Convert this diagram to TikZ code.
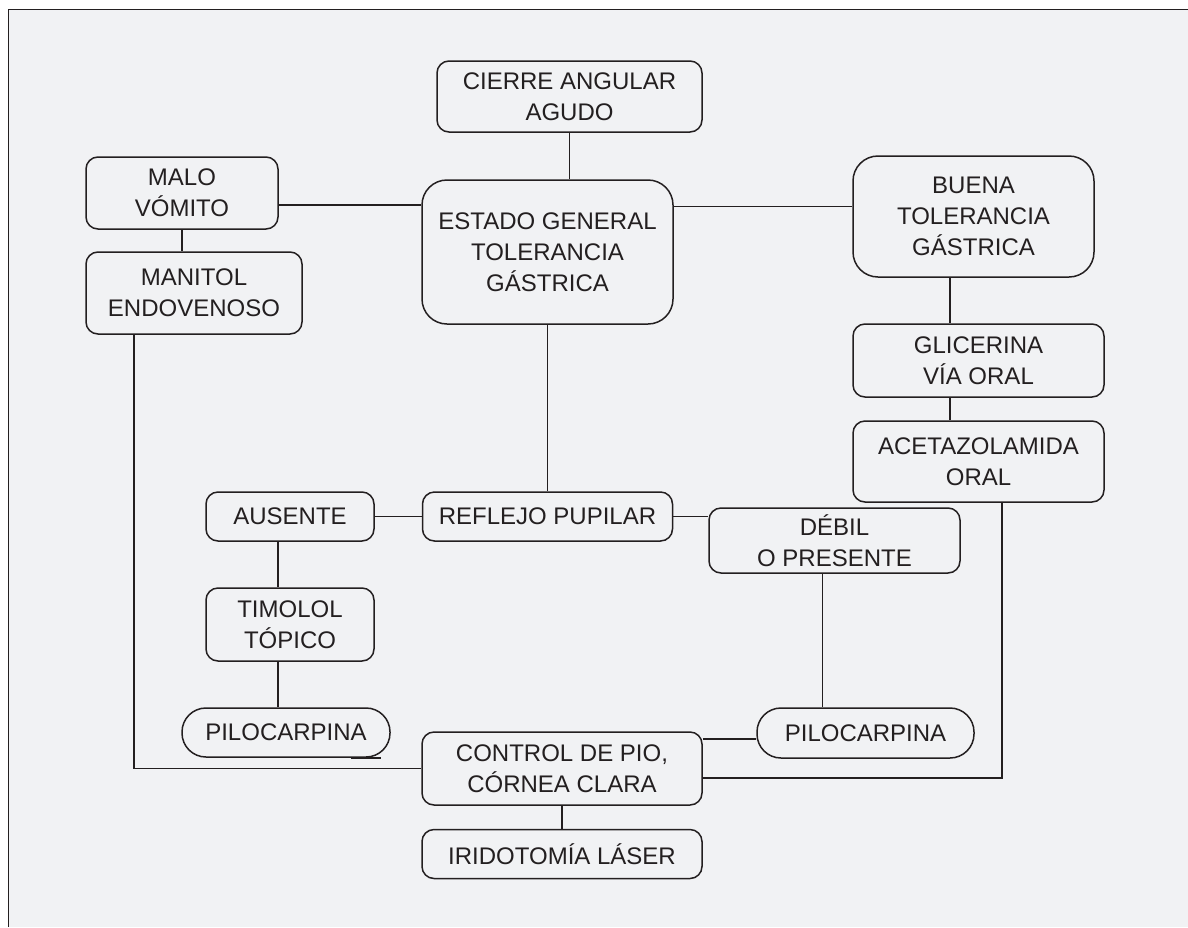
\documentclass[tikz,border=0pt]{standalone}
\usepackage{fontspec}
\setmainfont{Liberation Sans}
\usetikzlibrary{positioning}
\definecolor{fondo}{RGB}{241,242,244}
\definecolor{tinta}{RGB}{35,31,32}

\begin{document}
\begin{tikzpicture}[
    x=1pt, y=-1pt,
    caja/.style={draw=tinta, text=tinta, rounded corners=12pt, line width=1.5pt, align=center, inner sep=0pt,
        font=\fontsize{24}{31}\selectfont},
    grande/.style={caja, rounded corners=25pt},
    pastilla/.style={caja, rounded corners=24pt},
    linea/.style={draw=tinta, line width=1.6pt}
]

\useasboundingbox (0,0) rectangle (1188,927);
\fill[white] (0,0) rectangle (1188,927);
\fill[fondo] (8,9) rectangle (1188,927);
\draw[tinta, line width=0.9pt] (8,927) -- (8,9) -- (1188,9);

\node[caja, minimum width=265pt, minimum height=71pt] (cierre) at (569.5,96.5) {CIERRE ANGULAR\\AGUDO};
\node[grande, minimum width=251pt, minimum height=144pt] (estado) at (547.5,252) {ESTADO GENERAL\\TOLERANCIA\\GÁSTRICA};
\node[caja, minimum width=192pt, minimum height=72pt] (malo) at (182,193) {MALO\\VÓMITO};
\node[caja, minimum width=216pt, minimum height=82pt] (manitol) at (194,293) {MANITOL\\ENDOVENOSO};
\node[grande, minimum width=241pt, minimum height=121pt] (buena) at (973.5,216.5) {BUENA\\TOLERANCIA\\GÁSTRICA};
\node[caja, minimum width=251pt, minimum height=73pt] (glicerina) at (978.5,360.5) {GLICERINA\\VÍA ORAL};
\node[caja, minimum width=251pt, minimum height=81pt] (aceta) at (978.5,461.5) {ACETAZOLAMIDA\\ORAL};
\node[caja, minimum width=250pt, minimum height=49pt] (reflejo) at (547.5,516.5) {REFLEJO PUPILAR};
\node[caja, minimum width=168pt, minimum height=49pt] (ausente) at (290,516.5) {AUSENTE};
\node[caja, minimum width=251pt, minimum height=65pt] (debil) at (834.5,540.5) {DÉBIL\\O PRESENTE};
\node[caja, minimum width=168pt, minimum height=73pt] (timolol) at (290,624.5) {TIMOLOL\\TÓPICO};
\node[pastilla, minimum width=208pt, minimum height=49pt] (piloizq) at (286,732.5) {PILOCARPINA};
\node[pastilla, minimum width=217pt, minimum height=50pt] (piloder) at (865.5,733) {PILOCARPINA};
\node[caja, minimum width=280pt, minimum height=73pt] (control) at (562,768.5) {CONTROL DE PIO,\\CÓRNEA CLARA};
\node[caja, minimum width=280pt, minimum height=49pt, below=23pt of control] (irido) {IRIDOTOMÍA LÁSER};

\draw[linea] (cierre.south) -- (cierre.south |- estado.north);
\draw[linea] ([yshift=-12pt]malo.east) -- ([yshift=-12pt]malo.east -| estado.west);
\draw[linea] ([yshift=10pt]buena.west -| estado.east) -- ([yshift=10pt]buena.west);
\draw[linea] (malo.south) -- (malo.south |- manitol.north);
\draw[linea] ([xshift=-60pt]manitol.south) |- (control.west);
\draw[linea] (estado.south) -- (estado.south |- reflejo.north);
\draw[linea] (ausente.east) -- (reflejo.west);
\draw[linea] (reflejo.east) -- (reflejo.east -| debil.west);
\draw[linea] ([xshift=-12pt]ausente.south) -- ([xshift=-12pt]ausente.south |- timolol.north);
\draw[linea] ([xshift=-12pt]timolol.south) -- ([xshift=-12pt]timolol.south |- piloizq.north);
\draw[linea] ([xshift=-40pt]piloizq.south east) -- ([xshift=-40pt]piloizq.south east -| control.west);
\draw[linea] ([xshift=-12pt]debil.south) -- ([xshift=-12pt]debil.south |- piloder.north);
\draw[linea] ([yshift=-6pt]piloder.west) -- ([yshift=-6pt]piloder.west -| control.east);
\draw[linea] ([xshift=23.5pt]aceta.south) |- ([yshift=-9.5pt]control.east);
\draw[linea] ([xshift=-23.5pt]buena.south) -- ([xshift=-23.5pt]buena.south |- glicerina.north);
\draw[linea] ([xshift=-28.5pt]glicerina.south) -- ([xshift=-28.5pt]glicerina.south |- aceta.north);
\draw[linea] (control.south) -- (irido.north);

\end{tikzpicture}
\end{document}
